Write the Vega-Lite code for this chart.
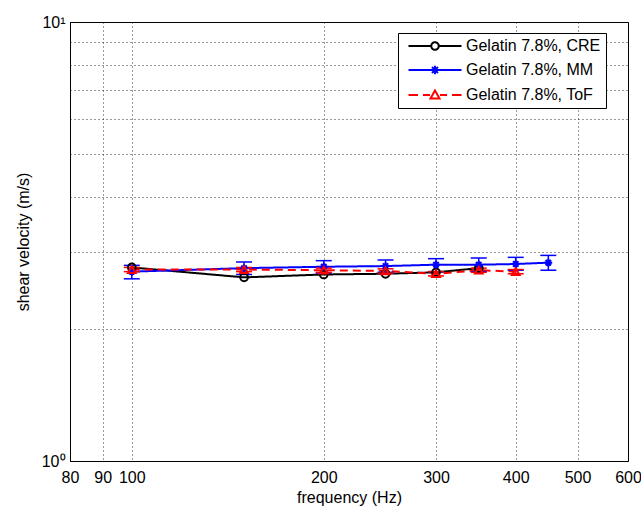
{
  "$schema": "https://vega.github.io/schema/vega-lite/v6.json",
  "width": 558,
  "height": 439,
  "autosize": {"type": "none"},
  "padding": {"left": 70, "top": 22, "right": 13, "bottom": 50},
  "background": "white",
  "config": {
    "view": {"stroke": "black", "strokeWidth": 1},
    "font": "Liberation Sans",
    "axis": {
      "labelFont": "Liberation Sans",
      "labelFontSize": 16,
      "labelColor": "black",
      "titleFont": "Liberation Sans",
      "titleFontSize": 16,
      "titleFontWeight": "normal",
      "titleColor": "black",
      "domainColor": "black",
      "gridColor": "black",
      "gridDash": [1, 3],
      "gridOpacity": 0.8,
      "ticks": false,
      "labelOverlap": false,
      "labelFlush": false
    }
  },
  "datasets": {
    "pts": [
      {"series": "Gelatin 7.8%, CRE", "f": 100, "v": 2.76},
      {"series": "Gelatin 7.8%, CRE", "f": 150, "v": 2.62},
      {"series": "Gelatin 7.8%, CRE", "f": 200, "v": 2.66},
      {"series": "Gelatin 7.8%, CRE", "f": 250, "v": 2.67},
      {"series": "Gelatin 7.8%, CRE", "f": 300, "v": 2.69},
      {"series": "Gelatin 7.8%, CRE", "f": 350, "v": 2.75},
      {"series": "Gelatin 7.8%, MM", "f": 100, "v": 2.70, "lo": 2.60, "hi": 2.79},
      {"series": "Gelatin 7.8%, MM", "f": 150, "v": 2.75, "lo": 2.66, "hi": 2.84},
      {"series": "Gelatin 7.8%, MM", "f": 200, "v": 2.77, "lo": 2.68, "hi": 2.86},
      {"series": "Gelatin 7.8%, MM", "f": 250, "v": 2.78, "lo": 2.69, "hi": 2.87},
      {"series": "Gelatin 7.8%, MM", "f": 300, "v": 2.80, "lo": 2.70, "hi": 2.89},
      {"series": "Gelatin 7.8%, MM", "f": 350, "v": 2.80, "lo": 2.70, "hi": 2.90},
      {"series": "Gelatin 7.8%, MM", "f": 400, "v": 2.81, "lo": 2.72, "hi": 2.91},
      {"series": "Gelatin 7.8%, MM", "f": 450, "v": 2.83, "lo": 2.72, "hi": 2.94},
      {"series": "Gelatin 7.8%, ToF", "f": 100, "v": 2.73, "lo": 2.70, "hi": 2.76},
      {"series": "Gelatin 7.8%, ToF", "f": 150, "v": 2.73, "lo": 2.70, "hi": 2.76},
      {"series": "Gelatin 7.8%, ToF", "f": 200, "v": 2.72, "lo": 2.69, "hi": 2.75},
      {"series": "Gelatin 7.8%, ToF", "f": 250, "v": 2.71, "lo": 2.68, "hi": 2.74},
      {"series": "Gelatin 7.8%, ToF", "f": 300, "v": 2.67, "lo": 2.64, "hi": 2.70},
      {"series": "Gelatin 7.8%, ToF", "f": 350, "v": 2.72, "lo": 2.69, "hi": 2.75},
      {"series": "Gelatin 7.8%, ToF", "f": 400, "v": 2.70, "lo": 2.67, "hi": 2.73}
    ]
  },
  "data": {"name": "pts"},
  "layer": [
    {
      "mark": {"type": "line", "strokeWidth": 2},
      "encoding": {
        "x": {
          "field": "f", "type": "quantitative",
          "scale": {"type": "log", "domain": [80, 600], "nice": false},
          "axis": {"title": "frequency (Hz)", "values": [80, 90, 100, 200, 300, 400, 500, 600], "grid": true, "labelPadding": 8, "titlePadding": 4}
        },
        "y": {
          "field": "v", "type": "quantitative",
          "scale": {"type": "log", "domain": [1, 10], "nice": false},
          "axis": {"title": "shear velocity (m/s)", "values": [1, 2, 3, 4, 5, 6, 7, 8, 9, 10], "grid": true, "labelPadding": 5, "titlePadding": 10,
                   "labelExpr": "datum.value == 1 ? '10⁰' : (datum.value == 10 ? '10¹' : '')"}
        },
        "color": {
          "field": "series", "type": "nominal",
          "scale": {"domain": ["Gelatin 7.8%, CRE", "Gelatin 7.8%, MM", "Gelatin 7.8%, ToF"], "range": ["black", "#0000ff", "#ff0000"]},
          "legend": {
            "title": null,
            "orient": "none",
            "legendX": 328,
            "legendY": 11,
            "padding": 5,
            "strokeColor": "black",
            "fillColor": "white",
            "cornerRadius": 0,
            "labelFont": "Liberation Sans",
            "labelFontSize": 16,
            "labelColor": "black",
            "symbolSize": 100,
            "symbolOffset": 24,
            "labelOffset": 23,
            "rowPadding": 7,
            "symbolStrokeWidth": 2,
            "encode": {
              "symbols": {
                "update": {
                  "shape": {"signal": "datum.value === 'Gelatin 7.8%, CRE' ? 'M-5.3,0L-0.75,0M0.75,0L5.3,0M-0.75,0A0.75,0.75 0 1,1 0.75,0A0.75,0.75 0 1,1 -0.75,0' : (datum.value === 'Gelatin 7.8%, MM' ? 'M-5.3,0L5.3,0M0,-0.85L0,0.85M-0.85,0L0.85,0M-0.6,-0.6L0.6,0.6M-0.6,0.6L0.6,-0.6' : 'M-5.3,0L-3.4,0M-2.4,0L-1,0M1,0L2.4,0M3.4,0L5.3,0M0,-0.9L0.9,0.7L-0.9,0.7Z')"},
                  "stroke": {"signal": "datum.value === 'Gelatin 7.8%, CRE' ? 'black' : (datum.value === 'Gelatin 7.8%, MM' ? '#0000ff' : '#ff0000')"},
                  "strokeDash": {"value": [1, 0]},
                  "strokeWidth": {"value": 2},
                  "fill": {"value": "transparent"},
                  "opacity": {"value": 1}
                }
              },
              "labels": {
                "update": {
                  "text": {"signal": "datum.label + '\u00a0\u00a0\u00a0\u00a0'"}
                }
              }
            }
          }
        },
        "strokeDash": {"field": "series", "type": "nominal", "scale": {"range": [[1, 0], [1, 0], [8, 5]]}, "legend": null}
      }
    },
    {
      "transform": [{"filter": "datum.lo != null"}],
      "mark": {"type": "rule", "strokeWidth": 1.5},
      "encoding": {
        "x": {"field": "f", "type": "quantitative"},
        "y": {"field": "lo", "type": "quantitative"},
        "y2": {"field": "hi"},
        "color": {"field": "series", "type": "nominal"}
      }
    },
    {
      "transform": [{"filter": "datum.lo != null"}],
      "mark": {"type": "point", "shape": "stroke", "filled": false, "size": 256, "strokeWidth": 1.5, "opacity": 1},
      "encoding": {
        "x": {"field": "f", "type": "quantitative"},
        "y": {"field": "lo", "type": "quantitative"},
        "color": {"field": "series", "type": "nominal"}
      }
    },
    {
      "transform": [{"filter": "datum.lo != null"}],
      "mark": {"type": "point", "shape": "stroke", "filled": false, "size": 256, "strokeWidth": 1.5, "opacity": 1},
      "encoding": {
        "x": {"field": "f", "type": "quantitative"},
        "y": {"field": "hi", "type": "quantitative"},
        "color": {"field": "series", "type": "nominal"}
      }
    },
    {
      "mark": {"type": "point", "filled": false, "strokeWidth": 2, "size": 60, "opacity": 1},
      "encoding": {
        "x": {"field": "f", "type": "quantitative"},
        "y": {"field": "v", "type": "quantitative"},
        "color": {"field": "series", "type": "nominal"},
        "shape": {
          "field": "series", "type": "nominal",
          "scale": {"range": ["circle", "M0,-1L0,1M-1,0L1,0M-0.7,-0.7L0.7,0.7M-0.7,0.7L0.7,-0.7", "triangle-up"]},
          "legend": null
        }
      }
    }
  ]
}
